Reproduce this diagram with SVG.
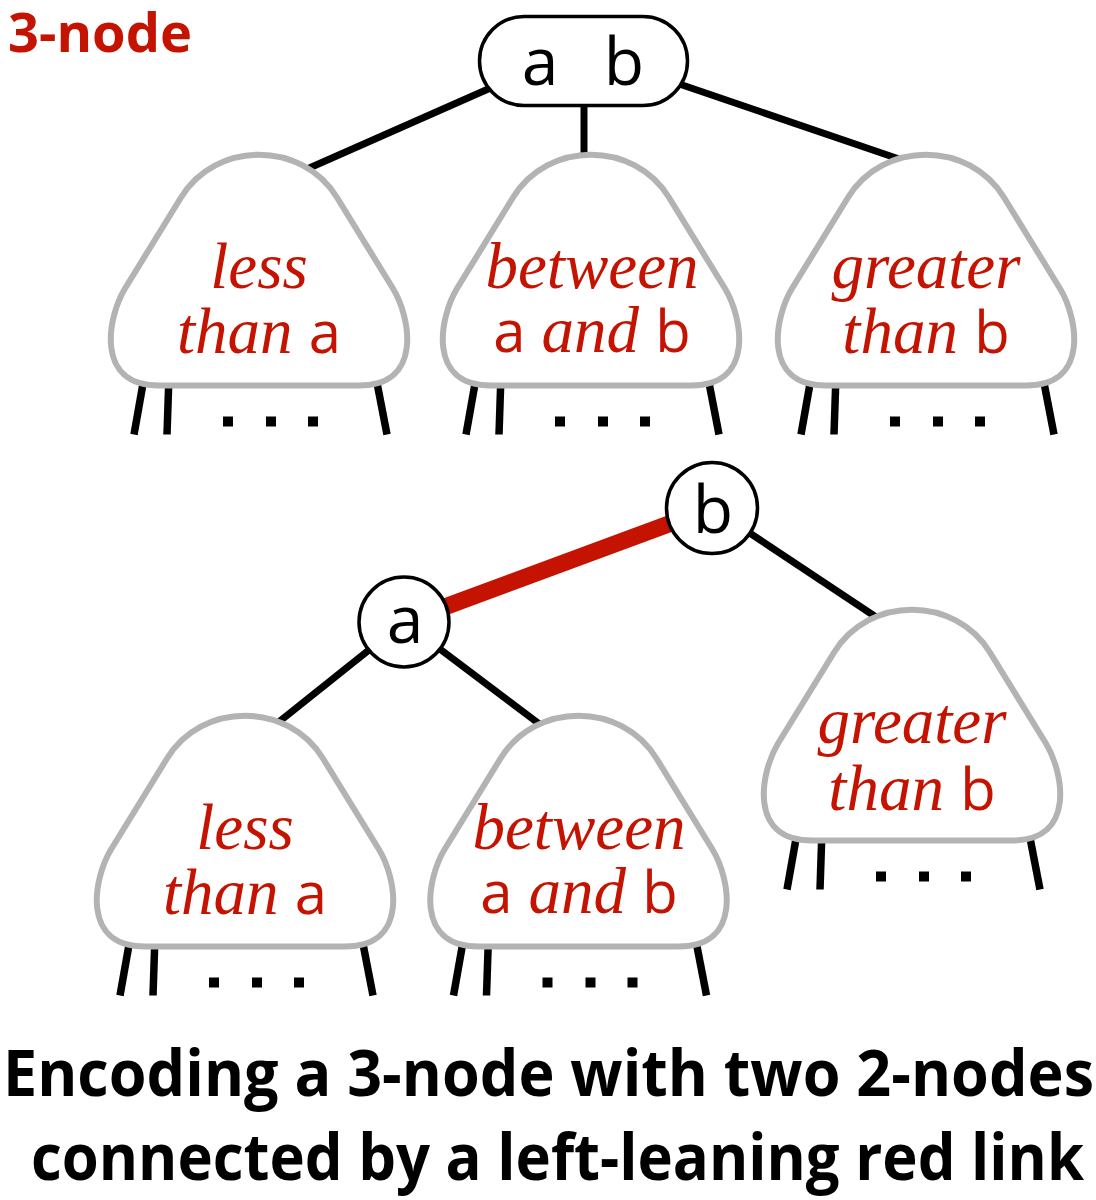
<svg xmlns="http://www.w3.org/2000/svg" xmlns:xlink="http://www.w3.org/1999/xlink" width="1096" height="1200" viewBox="0 0 1096 1200">
<style>
.edge{stroke:#000;stroke-width:7;fill:none}
.red{stroke:#c41300;stroke-width:17;fill:none}
.tri{fill:#fff;stroke:#b3b3b3;stroke-width:6;stroke-linejoin:round}
.leg{stroke:#000;stroke-width:7.5}
.node{fill:#fff;stroke:#000;stroke-width:3.5}
.key{font-family:"Open Sans","Noto Sans",sans-serif;font-size:66px;fill:#000;text-anchor:middle}
.lbl{font-family:"Liberation Serif",serif;font-style:italic;font-size:65px;fill:#c41300;text-anchor:middle}
.sk{font-family:"Open Sans","Noto Sans",sans-serif;font-style:normal;font-size:58px}
.title{font-family:"Open Sans","Noto Sans",sans-serif;font-weight:700;fill:#c41300;font-size:54px}
.cap{font-family:"Open Sans","Noto Sans",sans-serif;font-weight:700;fill:#000;font-size:64px}
</style>
<defs>
<g id="sub">
<line class="leg" x1="-114" y1="218" x2="-125" y2="280"/>
<line class="leg" x1="-90" y1="220" x2="-92" y2="280"/>
<line class="leg" x1="116" y1="218" x2="128" y2="280"/>
<rect x="-36" y="262" width="10" height="10"/>
<rect x="7" y="262" width="10" height="10"/>
<rect x="49" y="262" width="10" height="10"/>
<path class="tri" d="M -78,43 C -43,-14 43,-14 78,43 L 134,134 C 151,162 165,231 100,231 L -100,231 C -165,231 -151,162 -134,134 Z"/>
</g>
</defs>
<rect width="1096" height="1200" fill="#fff"/>
<text class="title" x="8" y="52" textLength="184" lengthAdjust="spacingAndGlyphs">3-node</text>
<g id="connectors">
<line class="edge" x1="520" y1="75" x2="298" y2="173"/>
<line class="edge" x1="584" y1="90" x2="584" y2="160"/>
<line class="edge" x1="650" y1="74" x2="902" y2="160"/>
<line class="edge" x1="404" y1="622" x2="270" y2="729"/>
<line class="edge" x1="404" y1="622" x2="546" y2="729"/>
<line class="edge" x1="712" y1="508" x2="882" y2="621"/>
<line class="red" x1="404" y1="622" x2="712" y2="508"/>
</g>
<g id="node-ab">
<rect class="node" x="479.5" y="16.5" width="208" height="89" rx="44.5"/>
<text class="key" x="540" y="85">a</text>
<text class="key" x="624" y="85">b</text>
</g>
<g id="top-less">
<use xlink:href="#sub" transform="translate(259,154.5)"/>
<text class="lbl" x="259" y="288">less</text>
<text class="lbl" x="259" y="353">than <tspan class="sk">a</tspan></text>
</g>
<g id="top-between">
<use xlink:href="#sub" transform="translate(591,154.5)"/>
<text class="lbl" x="592" y="288">between</text>
<text class="lbl" x="592" y="352"><tspan class="sk">a</tspan> and <tspan class="sk">b</tspan></text>
</g>
<g id="top-greater">
<use xlink:href="#sub" transform="translate(926,154.5)"/>
<text class="lbl" x="926" y="288">greater</text>
<text class="lbl" x="926" y="353">than <tspan class="sk">b</tspan></text>
</g>
<g id="node-b">
<circle class="node" cx="712" cy="508" r="45.5"/>
<text class="key" x="713" y="533">b</text>
</g>
<g id="node-a">
<circle class="node" cx="404" cy="622" r="45"/>
<text class="key" x="405" y="643">a</text>
</g>
<g id="bot-less">
<use xlink:href="#sub" transform="translate(245,715.5)"/>
<text class="lbl" x="245" y="849">less</text>
<text class="lbl" x="245" y="914">than <tspan class="sk">a</tspan></text>
</g>
<g id="bot-between">
<use xlink:href="#sub" transform="translate(578.5,715.5)"/>
<text class="lbl" x="579" y="849">between</text>
<text class="lbl" x="579" y="913"><tspan class="sk">a</tspan> and <tspan class="sk">b</tspan></text>
</g>
<g id="bot-greater">
<use xlink:href="#sub" transform="translate(912,609.5)"/>
<text class="lbl" x="912" y="743">greater</text>
<text class="lbl" x="912" y="810">than <tspan class="sk">b</tspan></text>
</g>
<g id="caption">
<text class="cap" x="3" y="1096" textLength="1091" lengthAdjust="spacingAndGlyphs">Encoding a 3-node with two 2-nodes</text>
<text class="cap" x="31" y="1180" textLength="1053" lengthAdjust="spacingAndGlyphs">connected by a left-leaning red link</text>
</g>
</svg>
